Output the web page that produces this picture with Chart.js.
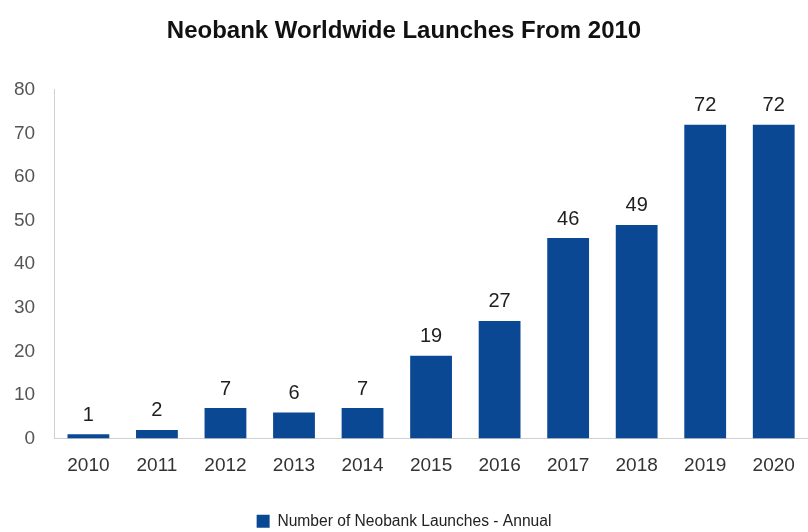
<!DOCTYPE html>
<html>
<head>
<meta charset="utf-8">
<script src="https://cdn.jsdelivr.net/npm/chart.js@4/dist/chart.umd.min.js"></script>
<style>
  html, body { margin: 0; padding: 0; background: #fff; }
  #box { width: 808px; height: 532px; }
</style>
</head>
<body>
<div id="box"><canvas id="chart"></canvas></div>
<script>
const years = ["2010", "2011", "2012", "2013", "2014", "2015", "2016", "2017", "2018", "2019", "2020"];
const launches = [1, 2, 7, 6, 7, 19, 27, 46, 49, 72, 72];
const yTicks = [0, 10, 20, 30, 40, 50, 60, 70, 80];

const FONT = "'Liberation Sans', Arial, sans-serif";
const BAR = "#0B4894";

const valueLabels = {
  id: "valueLabels",
  afterDatasetsDraw(chart) {
    const ctx = chart.ctx;
    const meta = chart.getDatasetMeta(0);
    ctx.save();
    ctx.fillStyle = "#1e1e1e";
    ctx.font = "20px " + FONT;
    ctx.textAlign = "center";
    ctx.textBaseline = "bottom";
    meta.data.forEach((bar, i) => {
      ctx.fillText(String(launches[i]), bar.x, bar.y - 9);
    });
    ctx.restore();
  }
};

new Chart(document.getElementById("chart"), {
  type: "bar",
  data: {
    labels: years,
    datasets: [{
      label: "Number of Neobank Launches - Annual",
      data: launches,
      backgroundColor: BAR,
      borderWidth: 0,
      categoryPercentage: 1,
      barPercentage: 0.61
    }]
  },
  options: {
    responsive: true,
    maintainAspectRatio: false,
    animation: false,
    layout: { padding: { left: -5, right: -5, top: 0, bottom: -7 } },
    plugins: {
      title: {
        display: true,
        text: "Neobank Worldwide Launches From 2010",
        color: "#111",
        font: { family: FONT, size: 24, weight: "bold" },
        padding: { top: 17, bottom: 44 }
      },
      legend: {
        position: "bottom",
        labels: {
          color: "#222",
          font: { family: FONT, size: 15.6 },
          boxWidth: 13,
          boxHeight: 13,
          padding: 1
        }
      },
      tooltip: { enabled: false }
    },
    scales: {
      x: {
        grid: { display: true, drawOnChartArea: false, drawTicks: true, tickLength: 16, tickColor: "rgba(0,0,0,0)", color: "rgba(0,0,0,0)" },
        border: { color: "#d0d0d0", width: 1 },
        ticks: { color: "#333", font: { family: FONT, size: 19 }, padding: 0 },
        title: { display: true, text: " ", font: { size: 10 }, padding: { top: 22, bottom: 1 } }
      },
      y: {
        min: 0,
        max: 80,
        afterBuildTicks: axis => { axis.ticks = yTicks.map(v => ({ value: v })); },
        grid: { display: false, drawTicks: false },
        border: { color: "#d0d0d0", width: 1 },
        ticks: { color: "#555", font: { family: FONT, size: 19 }, padding: 19 }
      }
    }
  },
  plugins: [valueLabels]
});
</script>
</body>
</html>
